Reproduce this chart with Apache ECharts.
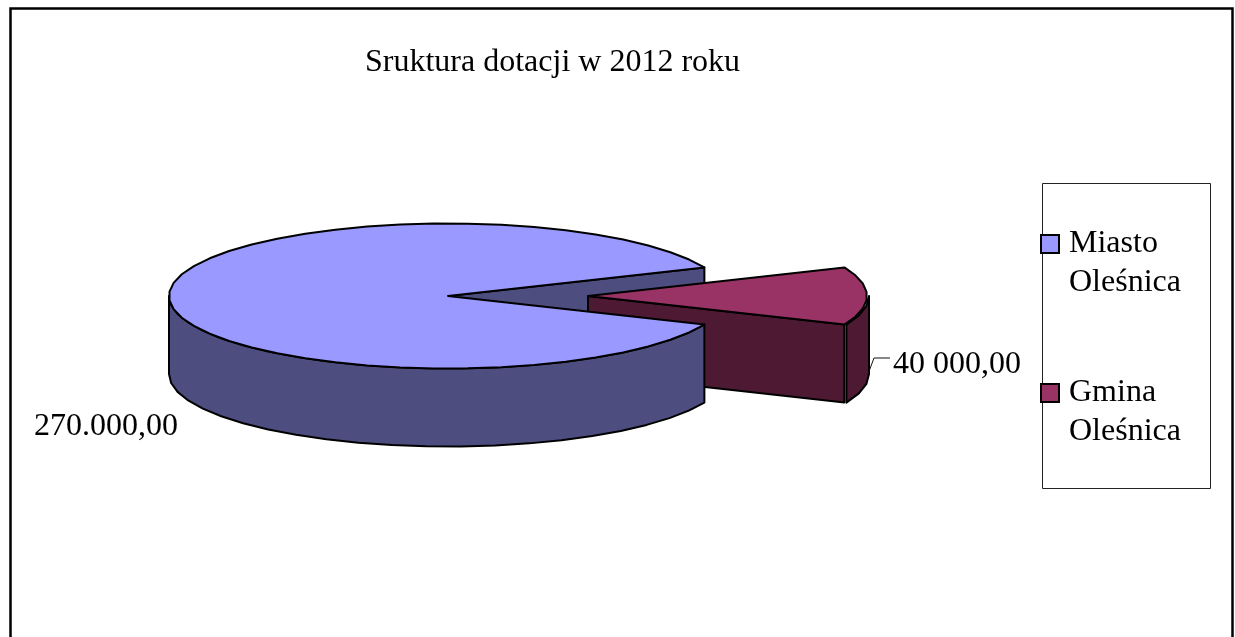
<!DOCTYPE html>
<html><head><meta charset="utf-8">
<style>html,body{margin:0;padding:0;background:#fff}#c{width:1235px;height:637px}</style>
<script src="https://cdn.jsdelivr.net/npm/echarts@6/dist/echarts.min.js"></script>
</head><body><div id="c"></div>
<script>
const titleText = 'Sruktura dotacji w 2012 roku';
const categories = ['Miasto\nOleśnica', 'Gmina\nOleśnica'];
const values = [270000, 40000];
const valueLabels = ['270.000,00', '40 000,00'];
const topColors = ['#9999FF', '#993366'];
const wallColors = ['#4D4D80', '#4D1933'];

const FONT = '"Liberation Serif","Times New Roman",serif';
const CX = 448, CY = 296, RX = 279, RY = 72.5, DEPTH = 78, EXPLODE = 140, STEP = 7;
const total = values.reduce((a, b) => a + b, 0);
const gapDeg = values[1] / total * 360;
// the smaller slice is centred on the right of the ellipse, the larger fills the remainder
const ranges = [[gapDeg / 2, 360 - gapDeg / 2], [-gapDeg / 2, gapDeg / 2]];
const offsets = [0, EXPLODE];

function pt(i, deg, dy) {
  const t = deg * Math.PI / 180;
  return [CX + offsets[i] + RX * Math.cos(t), CY + (dy || 0) + RY * Math.sin(t)];
}
function arc(i, from, to, dy) {
  const n = Math.max(1, Math.round(Math.abs(to - from) / STEP)), out = [];
  for (let k = 0; k <= n; k++) out.push(pt(i, from + (to - from) * k / n, dy));
  return out;
}
function poly(points, fill, z2) {
  return { type: 'polygon', z2, shape: { points },
    style: { fill, stroke: '#000', lineWidth: 2, lineJoin: 'round' } };
}
function label(text, x, y) {
  return { type: 'text', z2: 10, style: { text, x, y, fill: '#000',
    font: '32px ' + FONT, textAlign: 'left', textVerticalAlign: 'middle' } };
}
function slice(i, baseZ) {
  const [a, b] = ranges[i], cx = CX + offsets[i], c = [cx, CY], kids = [];
  const pb = pt(i, b);
  if (i === 0) {
    // inner wall seen through the gap, behind the exploded slice
    kids.push(poly([c, pb, [pb[0], pb[1] + DEPTH], [cx, CY + DEPTH]], wallColors[0], 1));
    // outer wall, near side only
    const front = arc(i, a, 180);
    kids.push(poly(front.concat(arc(i, 180, a, DEPTH)), wallColors[0], baseZ));
  } else {
    // inner wall of the exploded slice
    kids.push(poly([c, pb, [pb[0], pb[1] + DEPTH], [cx, CY + DEPTH]], wallColors[1], baseZ));
    // outer wall, right edge down to the near corner
    const shift = p => [p[0] + 2, p[1]];
    const front = arc(i, b, 0).map(shift);
    kids.push(poly(front.concat(arc(i, 0, b, DEPTH).map(shift)), wallColors[1], baseZ));
  }
  kids.push(poly([c].concat(arc(i, a, b)), topColors[i], baseZ + 1));
  return { type: 'group', children: kids };
}
const seriesDefs = categories.map((name, i) => ({
  type: 'custom', name, coordinateSystem: 'none', silent: true,
  itemStyle: { color: topColors[i] },
  data: [values[i]],
  renderItem: () => {
    const g = slice(i, i === 0 ? 4 : 2);
    if (i === 0) g.children.push(label(valueLabels[0], 34, 427));
    else {
      g.children.push(label(valueLabels[1], 893, 365));
      g.children.push({ type: 'polyline', z2: 10,
        shape: { points: [[868, 374], [874, 358], [890, 358]] },
        style: { stroke: '#111', lineWidth: 1, fill: null } });
    }
    return g;
  }
}));
const chart = echarts.init(document.getElementById('c'), null, { renderer: 'canvas' });
chart.setOption({
  animation: false,
  backgroundColor: '#fff',
  title: { text: titleText, left: 360, top: 42,
    textStyle: { fontFamily: FONT, fontSize: 32, fontWeight: 'normal', color: '#000' } },
  legend: {
    orient: 'vertical', left: 1040, top: 183, padding: 0, itemGap: 27,
    itemWidth: 18, itemHeight: 18, icon: 'rect', selectedMode: false,
    formatter: name => '\n' + name,
    data: categories.map((name, i) => ({ name,
      itemStyle: { color: topColors[i], borderColor: '#000', borderWidth: 2 } })),
    textStyle: { fontFamily: FONT, fontSize: 32, color: '#000', lineHeight: 39, padding: [5, 0, 0, 5] }
  },
  graphic: [
    { type: 'rect', silent: true, z: 0, shape: { x: 10.5, y: 8.5, width: 1222, height: 700 },
      style: { fill: 'none', stroke: '#000', lineWidth: 2.5 } },
    { type: 'rect', silent: true, z: 0, shape: { x: 1042.5, y: 183.5, width: 168, height: 305 },
      style: { fill: 'none', stroke: '#222', lineWidth: 1 } }
  ],
  series: seriesDefs
});
</script></body></html>
